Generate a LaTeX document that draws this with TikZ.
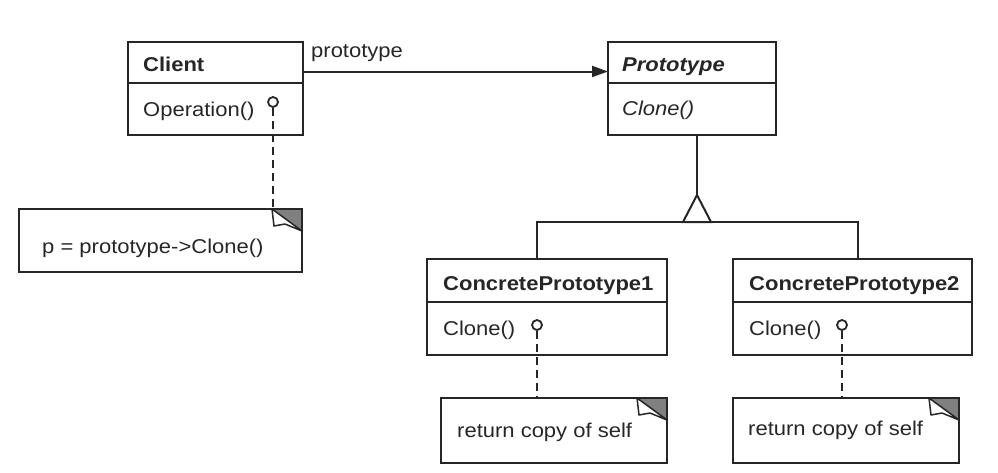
\documentclass[tikz,border=0pt]{standalone}
\usepackage{fontspec}
\setmainfont{Liberation Sans}[FakeStretch=1.1]
\usetikzlibrary{arrows.meta}
\begin{document}
\begin{tikzpicture}[x=1pt,y=-1pt,
  ink/.style={draw=black!85, line width=2pt},
  classbox/.style={draw=black!85, line width=2.1pt, rectangle, anchor=north west, inner sep=0pt, outer sep=0pt},
  notebox/.style={rectangle, anchor=north west, inner sep=0pt, outer sep=0pt},
  txt/.style={anchor=base west, inner sep=0pt, font=\fontsize{20}{24}\selectfont, text=black!85},
  lolli/.style={circle, draw=black!85, line width=1.8pt, minimum size=10pt, inner sep=0pt, fill=white},
  dep/.style={draw=black!85, line width=1.8pt, dash pattern=on 8pt off 5pt},
]
\useasboundingbox (0,0) rectangle (998,472);

% Client
\node[classbox, minimum width=175pt, minimum height=93pt] (client) at (128,42) {};
\draw[ink] (client.west |- 0,83) -- (client.east |- 0,83);
\node[txt] (clientname) at (143,71) {\bfseries Client};
\node[txt] (clientop) at (143,116) {Operation()};

% Prototype
\node[classbox, minimum width=168pt, minimum height=93pt] (proto) at (608,42) {};
\draw[ink] (proto.west |- 0,83) -- (proto.east |- 0,83);
\node[txt] (protoname) at (622,71) {\bfseries\itshape Prototype};
\node[txt] (protoop) at (622,115) {\itshape Clone()};

% association
\node[txt] (assoclabel) at (311,57) {prototype};
\draw[ink, -{Triangle[length=16pt,width=11pt]}] (client.east |- 0,71.5) -- (proto.west |- 0,71.5);

% Concrete prototypes
\node[classbox, minimum width=240pt, minimum height=96pt] (cp1) at (427,259) {};
\draw[ink] (cp1.west |- 0,302) -- (cp1.east |- 0,302);
\node[txt] (cp1name) at (443,290) {\bfseries ConcretePrototype1};
\node[txt] (cp1op) at (443,335) {Clone()};

\node[classbox, minimum width=239pt, minimum height=96pt] (cp2) at (733,259) {};
\draw[ink] (cp2.west |- 0,302) -- (cp2.east |- 0,302);
\node[txt] (cp2name) at (749,290) {\bfseries ConcretePrototype2};
\node[txt] (cp2op) at (749,335) {Clone()};

% inheritance
\coordinate (apex) at (697,195);
\coordinate (bl) at (683,222);
\coordinate (br) at (711,222);
\coordinate (h1) at (537,222);
\coordinate (h2) at (858,222);
\draw[ink] (apex |- proto.south) -- (apex);
\draw[ink, line join=miter] (apex) -- (bl) -- (br) -- cycle;
\draw[ink] (h1 |- cp1.north) -- (h1) -- (bl);
\draw[ink] (br) -- (h2) -- (h2 |- cp2.north);

% notes
\node[notebox, minimum width=283pt, minimum height=63pt] (n0) at (19,209) {};
\node[notebox, minimum width=226pt, minimum height=65pt] (n1) at (441,398) {};
\node[notebox, minimum width=226pt, minimum height=65pt] (n2) at (733,398) {};
\foreach \n in {n0,n1,n2}{
  \begin{scope}[shift={(\n.north east)}]
    \fill[black!50] (-30,0) -- (0,0) -- (0,22) -- cycle;
    \draw[draw=black!85, line width=1.5pt, fill=white, line join=round]
      (-30,0) -- (-28,17) -- (-17,15) -- (0,22) -- cycle;
  \end{scope}
  \draw[ink] (\n.north west) rectangle (\n.south east);
}
\node[txt] (n0text) at (42,253) {p = prototype->Clone()};
\node[txt] (n1text) at (457,437) {return copy of self};
\node[txt] (n2text) at (748,435) {return copy of self};

% lollipops and dependencies
\node[lolli] (clientlp) at (273,102) {};
\node[lolli] (cp1lp) at (537,325) {};
\node[lolli] (cp2lp) at (842,325) {};
\draw[dep] (clientlp) -- (clientlp |- n0.north);
\draw[dep] (cp1lp) -- (cp1lp |- n1.north);
\draw[dep] (cp2lp) -- (cp2lp |- n2.north);
\end{tikzpicture}
\end{document}
